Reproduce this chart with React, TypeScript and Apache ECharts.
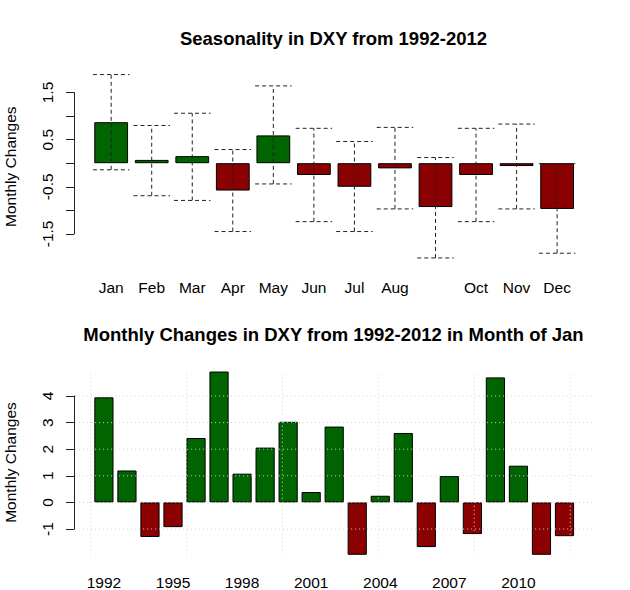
import React, { useEffect, useRef } from 'react';
import * as echarts from 'echarts';

// ---- Data ----
const months = ['Jan', 'Feb', 'Mar', 'Apr', 'May', 'Jun', 'Jul', 'Aug', 'Sep', 'Oct', 'Nov', 'Dec'];
const monthMean = [0.87, 0.07, 0.15, -0.58, 0.59, -0.25, -0.5, -0.11, -0.93, -0.25, -0.06, -0.97];
const monthHigh = [1.88, 0.8, 1.06, 0.29, 1.64, 0.74, 0.46, 0.76, 0.12, 0.74, 0.83, -0.01];
const monthLow = [-0.14, -0.69, -0.79, -1.45, -0.44, -1.24, -1.45, -0.97, -2.01, -1.24, -0.97, -1.91];

const years = ['1992', '1993', '1994', '1995', '1996', '1997', '1998', '1999', '2000', '2001', '2002',
  '2003', '2004', '2005', '2006', '2007', '2008', '2009', '2010', '2011', '2012'];
const janChanges = [3.95, 1.2, -1.3, -0.93, 2.42, 4.92, 1.08, 2.06, 3.03, 0.39, 2.85,
  -1.97, 0.25, 2.61, -1.68, 0.99, -1.19, 4.7, 1.38, -1.97, -1.27];

// R grid() positions (barplot user coordinates) for the lower panel
const gridXs = [0, 5, 10, 15, 20, 25];
const gridYs = [-1, 0, 1, 2, 3, 4];

const titleTop = 'Seasonality in DXY from 1992-2012';
const titleBottom = 'Monthly Changes in DXY from 1992-2012 in Month of Jan';
const yName = 'Monthly Changes';

// ---- Styles / layout ----
const FONT = '"Liberation Sans", Arial, Helvetica, sans-serif';
const GREEN = '#006400';
const RED = '#8B0000';
const AXIS = '#222222';
const LABEL_SIZE = 15.5;
const TITLE_SIZE = 18.5;

// lower panel barplot user-coordinate extents
const slotMin = 0.1;
const slotMax = 25.3;
const plotXMin = -0.8;
const plotXMax = 26.2;
const plotYMin = -1.97;
const plotYMax = 4.86;

const barColor = (v: number) => (v >= 0 ? GREEN : RED);

export default function App() {
  const ref = useRef<HTMLDivElement>(null);

  useEffect(() => {
    if (!ref.current) return;
    const chart = echarts.init(ref.current, undefined, { renderer: 'svg' });

    const labelStyle = { color: '#000', fontSize: LABEL_SIZE, fontFamily: FONT };

    const option: any = {
      animation: false,
      backgroundColor: '#ffffff',
      title: [
        {
          text: titleTop, left: 333.5, top: 28.5, textAlign: 'center', padding: 0,
          textStyle: { fontSize: TITLE_SIZE, fontWeight: 'bold', color: '#000', fontFamily: FONT },
        },
        {
          text: titleBottom, left: 333.5, top: 325, textAlign: 'center', padding: 0,
          textStyle: { fontSize: TITLE_SIZE, fontWeight: 'bold', color: '#000', fontFamily: FONT },
        },
      ],
      grid: [
        { left: 90.9, width: 486.5, top: 92.5, height: 141.4, containLabel: false, outerBoundsMode: 'none' },
        { left: 92.4, width: 483.6, top: 396, height: 133, containLabel: false, outerBoundsMode: 'none' },
      ],
      xAxis: [
        {
          gridIndex: 0, type: 'category', data: months,
          axisLine: { show: false }, axisTick: { show: false }, splitLine: { show: false },
          axisLabel: {
            ...labelStyle, interval: 0, margin: 46,
            formatter: (v: string) => (v === 'Sep' ? '' : v),
          },
        },
        {
          gridIndex: 1, type: 'category', data: years,
          axisLine: { show: false }, axisTick: { show: false }, splitLine: { show: false },
          axisLabel: { ...labelStyle, interval: 2, margin: 45.5 },
        },
        {
          gridIndex: 1, type: 'value', min: slotMin, max: slotMax, show: false,
        },
      ],
      yAxis: [
        {
          gridIndex: 0, type: 'value', min: -1.5, max: 1.5, interval: 0.5, offset: 16.9,
          axisLine: { show: true, lineStyle: { color: AXIS, width: 1 } },
          axisTick: { show: true, length: 8, lineStyle: { color: AXIS, width: 1 } },
          splitLine: { show: false },
          axisLabel: {
            ...labelStyle, rotate: 90, margin: 19,
            formatter: (v: number) => (Math.abs(Math.abs(v) % 1 - 0.5) < 1e-6 ? String(v) : ''),
          },
          name: yName, nameLocation: 'middle', nameGap: 56, nameRotate: 90,
          nameTextStyle: { ...labelStyle, padding: [0, 7, 0, 0] },
        },
        {
          gridIndex: 1, type: 'value', min: -1, max: 4, interval: 1, offset: 18.4,
          axisLine: { show: true, lineStyle: { color: AXIS, width: 1 } },
          axisTick: { show: true, length: 8, lineStyle: { color: AXIS, width: 1 } },
          splitLine: { show: false },
          axisLabel: { ...labelStyle, rotate: 90, margin: 19 },
          name: yName, nameLocation: 'middle', nameGap: 56, nameRotate: 90,
          nameTextStyle: { ...labelStyle },
        },
      ],
      series: [
        {
          type: 'bar', xAxisIndex: 0, yAxisIndex: 0,
          barCategoryGap: '16.67%',
          clip: false,
          data: monthMean.map((v) => ({
            value: v,
            itemStyle: { color: barColor(v), borderColor: '#000', borderWidth: 1 },
          })),
          z: 2,
        },
        {
          type: 'custom', xAxisIndex: 0, yAxisIndex: 0, clip: false, silent: true, z: 5,
          data: months.map((_, i) => [i, monthLow[i], monthHigh[i]]),
          encode: { x: 0, y: [1, 2] },
          renderItem: (params: any, api: any) => {
            const i = api.value(0);
            const pLo = api.coord([i, api.value(1)]);
            const pHi = api.coord([i, api.value(2)]);
            const half = api.size([1, 0])[0] * 0.45;
            const style = { stroke: '#222', lineWidth: 1, lineDash: [4, 3], fill: null };
            return {
              type: 'group',
              children: [
                { type: 'line', shape: { x1: pLo[0], y1: pLo[1], x2: pHi[0], y2: pHi[1] }, style },
                { type: 'line', shape: { x1: pHi[0] - half, y1: pHi[1], x2: pHi[0] + half, y2: pHi[1] }, style },
                { type: 'line', shape: { x1: pLo[0] - half, y1: pLo[1], x2: pLo[0] + half, y2: pLo[1] }, style },
              ],
            };
          },
        },
        {
          type: 'bar', xAxisIndex: 1, yAxisIndex: 1,
          barCategoryGap: '16.67%',
          clip: false,
          data: janChanges.map((v) => ({
            value: v,
            itemStyle: { color: barColor(v), borderColor: '#000', borderWidth: 1 },
          })),
          z: 2,
        },
        {
          type: 'custom', xAxisIndex: 2, yAxisIndex: 1, clip: false, silent: true, z: 4,
          data: gridXs.map((x) => [x, 0]),
          encode: { x: 0, y: 1 },
          renderItem: (params: any, api: any) => {
            const x = api.value(0);
            const a = api.coord([x, plotYMin]);
            const b = api.coord([x, plotYMax]);
            return {
              type: 'line',
              shape: { x1: a[0], y1: a[1], x2: b[0], y2: b[1] },
              style: { stroke: '#D3D3D3', lineWidth: 1, lineDash: [1, 3] },
            };
          },
        },
        {
          type: 'custom', xAxisIndex: 2, yAxisIndex: 1, clip: false, silent: true, z: 4,
          data: gridYs.map((y) => [slotMin, y]),
          encode: { x: 0, y: 1 },
          renderItem: (params: any, api: any) => {
            const y = api.value(1);
            const a = api.coord([plotXMin, y]);
            const b = api.coord([plotXMax, y]);
            return {
              type: 'line',
              shape: { x1: a[0], y1: a[1], x2: b[0], y2: b[1] },
              style: { stroke: '#D3D3D3', lineWidth: 1, lineDash: [1, 3] },
            };
          },
        },
      ],
    };

    chart.setOption(option);
    return () => {
      chart.dispose();
    };
  }, []);

  return (
    <div
      ref={ref}
      style={{ position: 'absolute', left: 0, top: 0, width: 630, height: 590, background: '#fff' }}
    />
  );
}
